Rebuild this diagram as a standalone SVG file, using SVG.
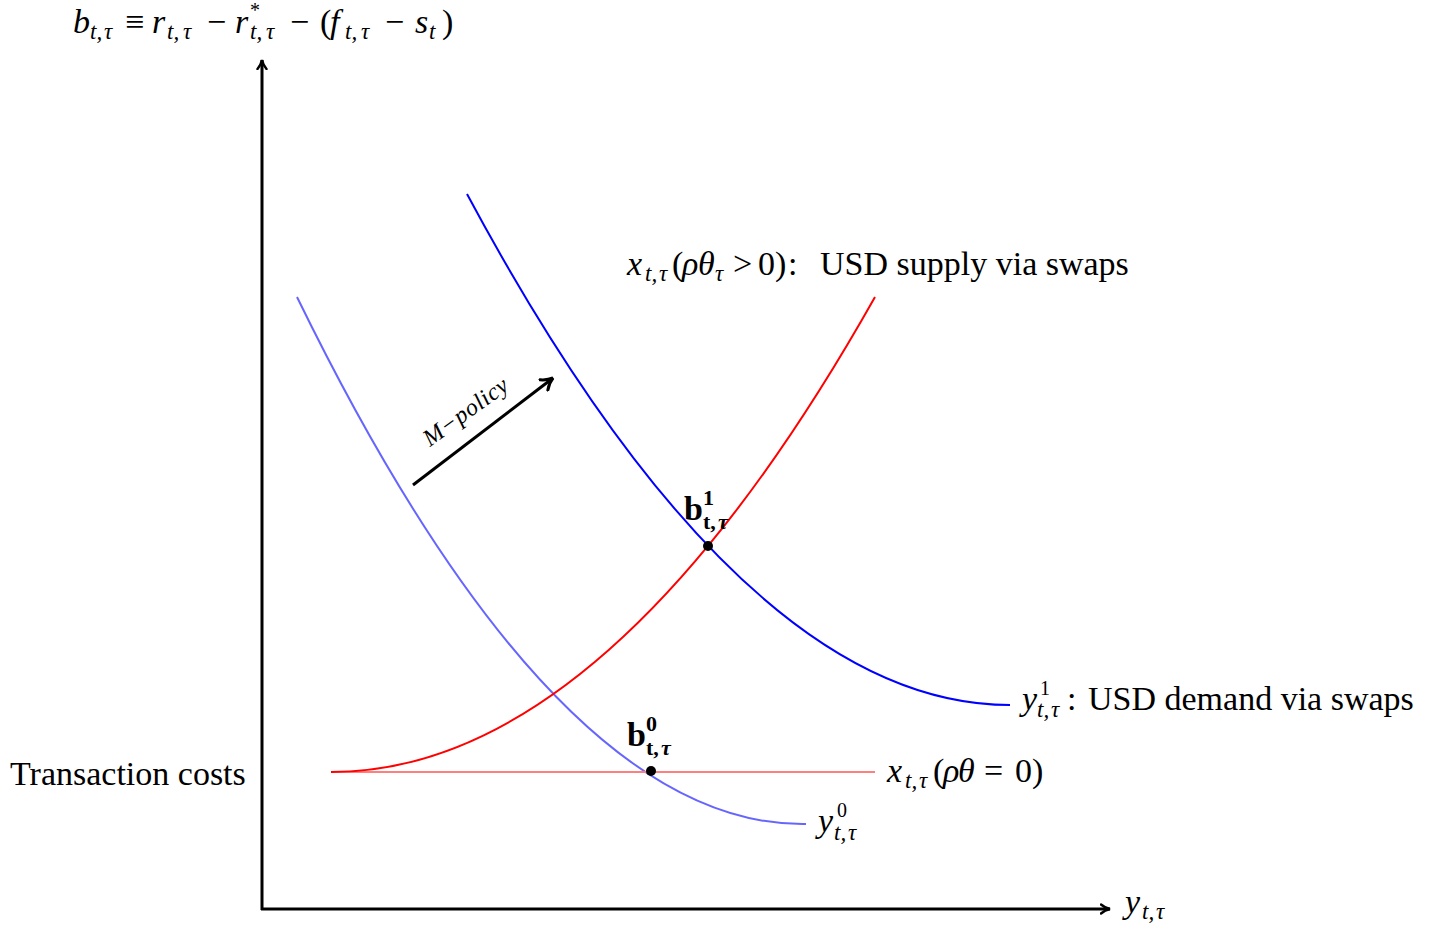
<svg xmlns="http://www.w3.org/2000/svg" width="1432" height="927" viewBox="0 0 1432 927">
<defs>
<style>
.m{font-family:"Liberation Serif","DejaVu Serif",serif;font-size:34px;fill:#000}
.i{font-style:italic}
.sub{font-size:23px;font-style:italic}
.sup{font-size:20px;font-style:normal}
.bsub{font-size:22px;font-weight:bold}
.mp{font-size:24px;font-style:italic;letter-spacing:0.6px}
.ax{stroke:#000;stroke-width:3;fill:none}
.cv{fill:none;stroke-width:2}
</style>
<marker id="ah" viewBox="0 0 12 12" refX="10" refY="6" markerWidth="12" markerHeight="12" markerUnits="userSpaceOnUse" orient="auto">
<path d="M1,1.5 Q5,5 10,6 Q5,7 1,10.5" fill="none" stroke="#000" stroke-width="2.5" stroke-linecap="round"/>
</marker>
<marker id="ah2" viewBox="0 0 16 16" refX="13" refY="8" markerWidth="16" markerHeight="16" markerUnits="userSpaceOnUse" orient="auto">
<path d="M1.5,1.5 Q7,6.5 13,8 Q7,9.5 1.5,14.5" fill="none" stroke="#000" stroke-width="3" stroke-linecap="round"/>
</marker>
</defs>
<rect width="1432" height="927" fill="#fff"/>
<g id="axes">
<line class="ax" x1="262" y1="910" x2="262" y2="60" marker-end="url(#ah)"/>
<line class="ax" x1="261" y1="909" x2="1110" y2="909" marker-end="url(#ah)"/>
</g>
<g id="connectors">
<path id="y0" class="cv" stroke="#6666ff" d="M297,297 Q556,828 806,824"/>
<path id="y1" class="cv" stroke="#0000ff" d="M467,194 Q741,705 1010,705"/>
<line id="x0" class="cv" stroke="#ff7f7f" x1="331" y1="772" x2="875" y2="772"/>
<path id="x1" class="cv" stroke="#ff0000" d="M331,772 Q607,772 875,297"/>
<line class="ax" x1="413" y1="485" x2="553" y2="378" marker-end="url(#ah2)"/>
</g>
<g id="p1"><circle cx="708" cy="546" r="5"/>
<text class="m" y="520" font-weight="bold"><tspan x="684">b</tspan><tspan class="bsub" x="703" y="505">1</tspan><tspan class="bsub" x="703" y="529">t,</tspan><tspan class="bsub" font-style="italic" x="718">τ</tspan></text></g>
<g id="p0"><circle cx="651" cy="771" r="5"/>
<text class="m" y="746" font-weight="bold"><tspan x="627">b</tspan><tspan class="bsub" x="646" y="731">0</tspan><tspan class="bsub" x="646" y="755">t,</tspan><tspan class="bsub" font-style="italic" x="661">τ</tspan></text></g>
<g id="lbl-b">
<text class="m" y="33"><tspan x="73" class="i">b</tspan><tspan x="90" y="39" class="sub">t,</tspan><tspan x="104" class="sub">τ</tspan><tspan x="125" y="33">≡</tspan><tspan x="152" class="i">r</tspan><tspan x="167" y="39" class="sub">t,</tspan><tspan x="183" class="sub">τ</tspan><tspan x="207" y="33">−</tspan><tspan x="235" class="i">r</tspan><tspan x="250" y="17" class="sup">*</tspan><tspan x="250" y="39" class="sub">t,</tspan><tspan x="266" class="sub">τ</tspan><tspan x="290" y="33">−</tspan><tspan x="320">(</tspan><tspan x="330" class="i">f</tspan><tspan x="345" y="39" class="sub">t,</tspan><tspan x="361" class="sub">τ</tspan><tspan x="385" y="33">−</tspan><tspan x="415" class="i">s</tspan><tspan x="429" y="39" class="sub">t</tspan><tspan x="442" y="33">)</tspan></text>
</g>
<g id="lbl-supply">
<text class="m" y="275"><tspan x="627" class="i">x</tspan><tspan x="645" y="281" class="sub">t,</tspan><tspan x="659" class="sub">τ</tspan><tspan x="672" y="275">(</tspan><tspan x="682" class="i">ρ</tspan><tspan x="698" class="i">θ</tspan><tspan x="715" y="281" class="sub">τ</tspan><tspan x="733" y="275">&gt;</tspan><tspan x="758">0)</tspan><tspan x="788">:</tspan><tspan x="820">USD supply via swaps</tspan></text>
</g>
<g id="lbl-demand">
<text class="m" y="710"><tspan x="1022" class="i">y</tspan><tspan x="1040" y="695" class="sup">1</tspan><tspan x="1037" y="717" class="sub">t,</tspan><tspan x="1051" class="sub">τ</tspan><tspan x="1067" y="710">:</tspan><tspan x="1088">USD demand via swaps</tspan></text>
</g>
<g id="lbl-x0">
<text class="m" y="782"><tspan x="887" class="i">x</tspan><tspan x="905" y="788" class="sub">t,</tspan><tspan x="919" class="sub">τ</tspan><tspan x="933" y="782">(</tspan><tspan x="943" class="i">ρ</tspan><tspan x="958" class="i">θ</tspan><tspan x="984">=</tspan><tspan x="1015">0)</tspan></text>
</g>
<g id="lbl-y0">
<text class="m" y="832"><tspan x="818" class="i">y</tspan><tspan x="837" y="817" class="sup">0</tspan><tspan x="834" y="840" class="sub">t,</tspan><tspan x="848" class="sub">τ</tspan></text>
</g>
<g id="lbl-tc"><text class="m" x="10" y="785">Transaction costs</text></g>
<g id="lbl-yaxis"><text class="m" y="913"><tspan x="1125" class="i">y</tspan><tspan x="1142" y="919" class="sub">t,</tspan><tspan x="1156" class="sub">τ</tspan></text></g>
<g id="lbl-mpolicy"><text class="m mp" transform="translate(430,447) rotate(-36)">M−policy</text></g>
</svg>
